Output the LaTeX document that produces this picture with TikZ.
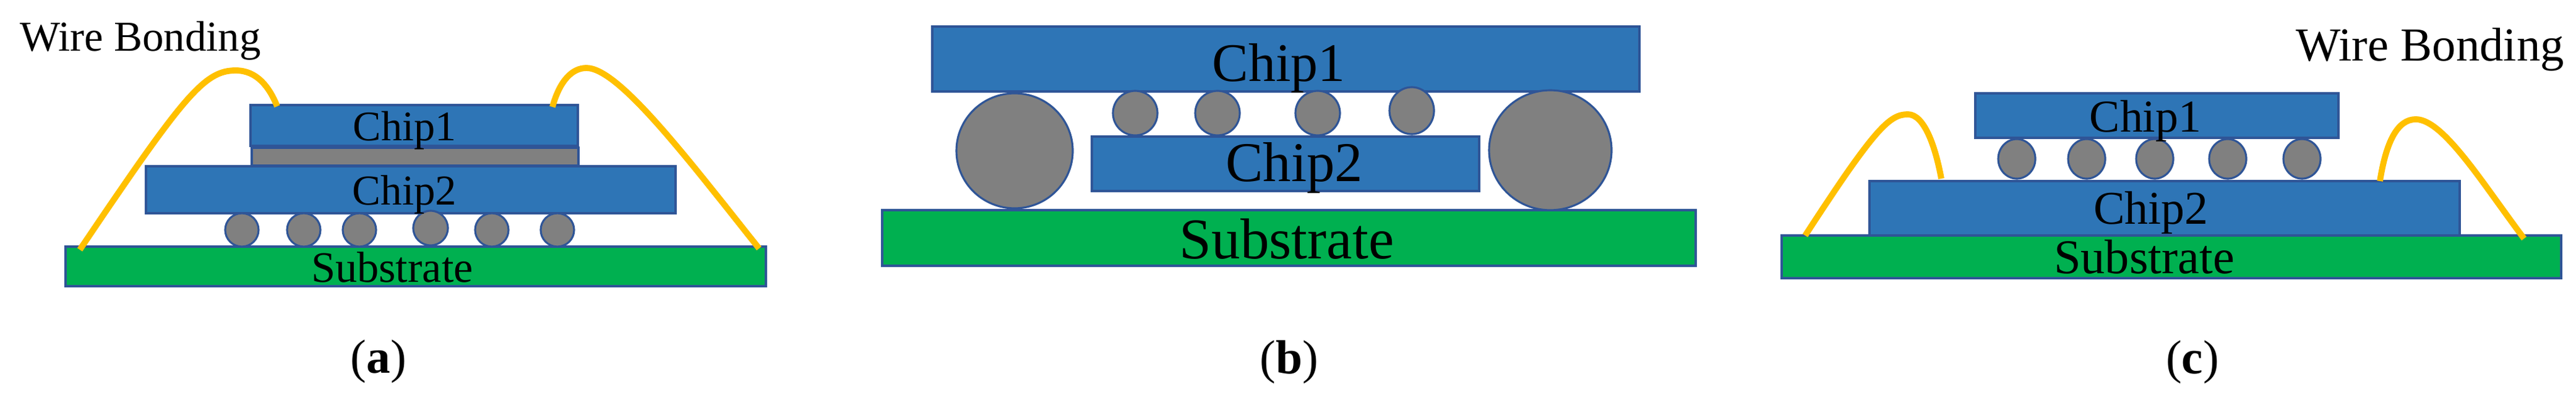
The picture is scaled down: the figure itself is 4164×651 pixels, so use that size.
\documentclass[tikz,border=0pt]{standalone}
\usepackage{fontspec}
\setmainfont{Liberation Serif}
\definecolor{chipblue}{HTML}{2E75B6}
\definecolor{edgeblue}{HTML}{2F5597}
\definecolor{subgreen}{HTML}{00B050}
\definecolor{wiregold}{HTML}{FFC000}
\definecolor{bumpgray}{HTML}{808080}
\tikzset{
    chip/.style={draw=edgeblue, fill=chipblue, line width=0.9pt},
    sub/.style={draw=edgeblue, fill=subgreen, line width=0.9pt},
    bump/.style={draw=edgeblue, fill=bumpgray, line width=0.9pt},
    wire/.style={draw=wiregold, line width=2.8pt},
    lbl/.style={anchor=base, inner sep=0pt, font=\fontsize{#1}{#1}\selectfont}
}
\begin{document}
\begin{tikzpicture}[x=0.01cm, y=-0.01cm]
                    \useasboundingbox (0,0) rectangle (4164,651);

                    % panel a
                    \draw[sub] (106,399) rectangle (1238,463);
                    \draw[chip] (236,269) rectangle (1092,345);
                    \draw[bump] (407,239) rectangle (935,268);
                    \draw[chip] (405,170) rectangle (934,236);
                    \draw[bump] (391,372) circle (27);
                    \draw[bump] (491,372) circle (27);
                    \draw[bump] (581,372) circle (27);
                    \draw[bump] (696,369) circle (28);
                    \draw[bump] (795,372) circle (27);
                    \draw[bump] (901,372) circle (27);

                    \coordinate (padAl) at (129,404);
                    \coordinate (topAl) at (381,114);
                    \coordinate (endAl) at (448,172);
                    \coordinate (endAr) at (893,173);
                    \coordinate (topAr) at (948,110);
                    \coordinate (padAr) at (1227,402);
                    \draw[wire] (padAl) .. controls (297,155) and (330,114) .. (topAl) .. controls (415,114) and (435,140) .. (endAl);
                    \draw[wire] (endAr) .. controls (905,130) and (925,110) .. (topAr) .. controls (1000,110) and (1110,255) .. (padAr);

                    \node[lbl=19.6] (wireA) at (227,82) {Wire Bonding};
                    \node[lbl=19.4] (chipAa) at (654,227) {Chip1};
                    \node[lbl=19.6] (chipAb) at (654,331) {Chip2};
                    \node[lbl=20] (subA) at (634,456) {Substrate};
                    \node[lbl=22] (capA) at (612,603) {(\textbf{a})};

                    % panel b
                    \draw[sub] (1426,340) rectangle (2741,430);
                    \draw[chip] (1507,43) rectangle (2650,148);
                    \draw[chip] (1765,221) rectangle (2391,309);
                    \draw[bump] (1835,183) ellipse (36 and 36);
                    \draw[bump] (1968,183) ellipse (36 and 36);
                    \draw[bump] (2130,183) ellipse (36 and 36);
                    \draw[bump] (2282,179) ellipse (36 and 38);
                    \draw[bump] (1640,244) ellipse (94 and 93);
                    \draw[bump] (2506,243) ellipse (99 and 97);

                    \node[lbl=25] (chipBa) at (2067,131) {Chip1};
                    \node[lbl=25.8] (chipBb) at (2092,293) {Chip2};
                    \node[lbl=26.5] (subB) at (2080,418) {Substrate};
                    \node[lbl=22] (capB) at (2084,604) {(\textbf{b})};

                    % panel c
                    \draw[sub] (2880,381) rectangle (4140,450);
                    \draw[chip] (3022,293) rectangle (3976,381);
                    \draw[chip] (3193,151) rectangle (3780,223);
                    \draw[bump] (3260,257) ellipse (30 and 32);
                    \draw[bump] (3373,257) ellipse (30 and 32);
                    \draw[bump] (3483,257) ellipse (30 and 32);
                    \draw[bump] (3601,257) ellipse (30 and 32);
                    \draw[bump] (3721,257) ellipse (30 and 32);

                    \coordinate (padCl) at (2918,381);
                    \coordinate (topCl) at (3084,185);
                    \coordinate (endCl) at (3138,289);
                    \coordinate (endCr) at (3847,293);
                    \coordinate (topCr) at (3905,193);
                    \coordinate (padCr) at (4080,386);
                    \draw[wire] (padCl) .. controls (3032,205) and (3055,185) .. (topCl) .. controls (3110,185) and (3128,235) .. (endCl);
                    \draw[wire] (endCr) .. controls (3857,230) and (3875,193) .. (topCr) .. controls (3950,193) and (4015,300) .. (padCr);

                    \node[lbl=21.8] (wireC) at (3928,98) {Wire Bonding};
                    \node[lbl=21] (chipCa) at (3468,213) {Chip1};
                    \node[lbl=21.6] (chipCb) at (3477,362) {Chip2};
                    \node[lbl=22.3] (subC) at (3466,442) {Substrate};
                    \node[lbl=22] (capC) at (3544,604) {(\textbf{c})};
                \end{tikzpicture}
\end{document}
